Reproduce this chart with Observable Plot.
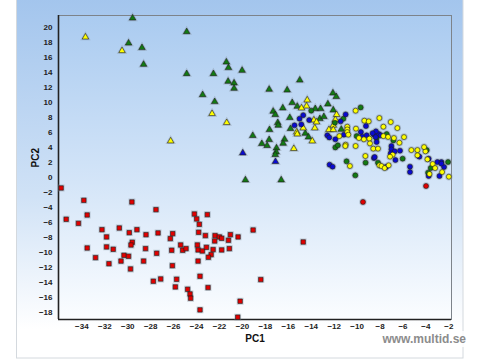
<!DOCTYPE html>
<html><head><meta charset="utf-8">
<script src="https://cdn.jsdelivr.net/npm/d3@7"></script>
<script src="https://cdn.jsdelivr.net/npm/@observablehq/plot@0.6"></script>
<style>
html,body{margin:0;padding:0;background:#fff;}
#chart{width:480px;height:360px;position:relative;}
</style></head><body><div id="chart"></div>
<script>
const xDomain = [-36.04, -1.77];
const yDomain = [-18.88, 21.55];
const xTicks = [-34,-32,-30,-28,-26,-24,-22,-20,-18,-16,-14,-12,-10,-8,-6,-4,-2];
const yTicks = [-18,-16,-14,-12,-10,-8,-6,-4,-2,0,2,4,6,8,10,12,14,16,18,20];
const xLabel = "PC1";
const yLabel = "PC2";
const credit = "www.multid.se";

const greenTriangles = [
[-29.58,21.2],[-24.86,19.38],[-29.93,17.87],[-28.76,17.26],[-28.62,15.04],[-24.86,13.8],[-21.4,15.35],[-21.22,14.6],[-20.03,14.24],[-22.53,13.8],[-21.25,12.78],[-20.73,12.56],[-20.73,11.85],[-23.47,11.0],[-22.42,10.08],[-19.1,5.57],
[-17.67,11.72],[-16.1,11.63],[-15.0,12.95],[-15.66,9.95],[-15.22,9.46],[-16.48,9.24],[-17.32,8.8],[-17.14,8.36],[-15.87,7.96],[-16.92,7.29],[-16.88,6.94],[-15.81,6.5],[-17.64,6.36],[-14.52,5.87],[-14.24,5.38],[-16.33,5.08],[-16.45,4.54],[-17.67,5.03],[-18.31,4.5],[-17.85,4.24],[-17.03,3.92],[-17.06,3.39],[-17.14,3.04],[-19.74,-0.33],[-16.62,-0.33],
[-12.11,11.23],[-11.82,10.75],[-12.55,9.77],[-13.65,9.15],[-13.19,9.15],[-12.08,8.97],[-13.25,7.82],[-12.9,8.09],[-11.38,6.4]
];
const yellowTriangles = [
[-33.69,18.67],[-30.5,16.86],[-22.65,8.49],[-21.37,7.29],[-26.26,4.85],[-14.35,10.3],[-14.41,9.5],[-14.85,9.24],[-14.7,6.58],[-15.26,6.05],[-15.22,5.78],[-15.52,3.84],[-13.77,7.64],[-13.54,7.38],[-11.79,8.36],[-11.9,7.69],[-12.08,6.94],[-12.46,6.36],[-12.08,6.36],[-13.91,4.85],[-13.69,6.58]
];
const blueTriangles = [[-19.97,3.26],[-17.12,2.11]];
const greenCircles = [
[-14.0,8.89],[-9.69,9.33],[-11.2,7.82],[-11.94,7.29],[-10.04,5.51],[-8.3,5.25],[-11.9,4.01],[-11.68,4.28],[-9.26,1.98],[-8.18,1.98],[-10.92,2.15],[-10.16,0.29],[-7.42,5.78],[-6.84,4.94],[-6.03,2.51],[-3.93,3.65],[-2.07,2.06],[-3.58,1.26],[-3.81,0.65]
];
const blueCircles = [
[-14.7,8.3],[-15.02,7.82],[-14.18,7.64],[-15.46,6.94],[-14.87,7.07],[-11.0,8.4],[-11.44,7.47],[-9.67,6.05],[-9.23,6.84],[-12.6,5.61],[-12.43,5.34],[-11.9,5.08],[-11.15,5.7],[-9.55,5.43],[-9.17,5.61],[-8.53,5.7],[-8.1,5.78],[-8.3,4.72],[-8.53,2.59],[-12.4,1.71],[-12.14,1.45],[-8.36,6.14],[-8.65,5.9],[-7.95,5.61],[-8.38,5.38],[-7.01,4.19],[-7.01,3.75],[-6.72,3.48],[-7.07,3.22],[-6.26,3.57],[-6.66,2.33],[-7.48,1.4],[-4.57,2.78],[-3.76,2.51],[-3.0,2.06],[-2.65,2.06],[-2.42,1.4],[-3.76,0.2],[-2.82,0.2],[-5.39,1.45],[-5.39,0.73],[-8.47,2.73],[-2.65,1.85]
];
const yellowCircles = [
[-10.13,8.89],[-10.1,6.5],[-9.37,7.56],[-8.99,7.47],[-8.06,7.91],[-10.86,6.76],[-10.86,6.4],[-10.86,6.05],[-10.77,5.7],[-11.55,5.51],[-9.84,5.25],[-9.41,5.08],[-8.93,5.17],[-8.88,4.54],[-11.0,4.37],[-11.03,4.19],[-10.13,4.19],[-8.59,3.84],[-8.18,3.84],[-9.28,2.86],[-8.06,1.62],[-10.63,1.53],[-7.07,7.38],[-7.71,6.76],[-6.49,6.58],[-7.71,5.51],[-7.3,5.4],[-6.79,5.25],[-5.91,5.38],[-6.31,4.63],[-6.9,3.04],[-7.13,2.78],[-7.88,1.53],[-7.6,1.26],[-7.25,1.62],[-5.27,3.65],[-4.74,3.65],[-4.04,3.48],[-4.74,2.95],[-3.87,2.42],[-3.41,1.8],[-3.2,1.26],[-3.69,0.47],[-2.0,0.11],[-2.59,0.73],[-4.16,4.05]
];
const redCircles = [[-9.49,-3.25],[-3.99,-1.13]];
const redSquares = [
[-35.81,-1.39],[-33.83,-3.03],[-29.64,-3.25],[-27.54,-4.27],[-35.37,-5.55],[-33.54,-4.98],[-34.3,-6.09],[-30.74,-6.71],[-24.19,-4.85],[-23.99,-5.51],[-23.06,-4.93],[-23.76,-6.22],[-32.25,-6.93],[-29.2,-6.93],[-29.87,-7.33],[-31.85,-7.9],[-28.41,-7.6],[-27.36,-7.37],[-26.08,-7.46],[-26.29,-8.12],[-23.82,-7.28],[-23.23,-7.72],[-22.39,-7.72],[-22.01,-7.9],[-21.81,-8.08],[-21.05,-7.6],[-20.38,-7.9],[-19.07,-6.98],[-22.42,-8.44],[-21.22,-8.34],[-29.61,-8.61],[-29.72,-8.97],[-33.54,-9.37],[-31.85,-9.23],[-31.27,-9.54],[-28.45,-9.45],[-26.17,-9.67],[-25.39,-8.97],[-25.21,-9.67],[-24.92,-9.45],[-23.93,-8.97],[-23.87,-9.63],[-23.49,-9.77],[-23.14,-9.28],[-22.56,-9.58],[-22.73,-10.25],[-22.97,-10.6],[-21.81,-9.63],[-21.14,-9.45],[-32.81,-10.65],[-30.33,-10.34],[-29.93,-10.47],[-27.48,-10.07],[-31.64,-11.46],[-30.59,-11.11],[-28.62,-11.11],[-23.87,-11.11],[-26.11,-11.72],[-29.76,-12.16],[-27.77,-13.79],[-27.13,-13.49],[-25.74,-13.53],[-23.7,-13.13],[-18.4,-13.57],[-25.85,-14.55],[-23.0,-14.63],[-24.78,-14.86],[-24.57,-15.48],[-24.52,-16.05],[-20.2,-16.45],[-23.7,-17.6],[-20.41,-18.57],[-14.7,-8.57]
];

const groups = [
  {data: redSquares, symbol: "square", fill: "#e10000", r: 2.5},
  {data: greenTriangles, symbol: "triangle", fill: "#127a12", r: 2.4},
  {data: yellowTriangles, symbol: "triangle", fill: "#ffff00", r: 2.4},
  {data: blueTriangles, symbol: "triangle", fill: "#0a0ad0", r: 2.4},
  {data: greenCircles, symbol: "circle", fill: "#127a12", r: 2.5},
  {data: blueCircles, symbol: "circle", fill: "#0a0ad0", r: 2.5},
  {data: yellowCircles, symbol: "circle", fill: "#ffff00", r: 2.5},
  {data: redCircles, symbol: "circle", fill: "#e10000", r: 2.5}
];

const marks = [];
marks.push(Plot.frame({stroke: "#7d838a", strokeWidth: 1}));
marks.push(Plot.ruleX([xDomain[0]], {stroke: "#222", strokeWidth: 1.6}));
marks.push(Plot.ruleY([yDomain[0]], {stroke: "#222", strokeWidth: 1.6}));
for (const g of groups) {
  marks.push(Plot.dot(g.data, {x: d => d[0], y: d => d[1], symbol: g.symbol, r: g.r + 0.5, fill: "none", stroke: "#7f8c99", strokeOpacity: 0.4, strokeWidth: 1.5}));
}
for (const g of groups) {
  marks.push(Plot.dot(g.data, {x: d => d[0], y: d => d[1], symbol: g.symbol, r: g.r, fill: g.fill, stroke: "#1c1c1c", strokeWidth: 0.6}));
}
marks.push(Plot.text([xLabel], {text: d => d, frameAnchor: "bottom", dy: 22, fontSize: 10, fontWeight: "bold", fill: "#111"}));
marks.push(Plot.text([yLabel], {text: d => d, frameAnchor: "left", dx: -23, rotate: -90, fontSize: 10, fontWeight: "bold", fill: "#111"}));

const hasAxis = typeof Plot.axisX === "function";
if (hasAxis) {
  marks.push(Plot.axisX(xTicks, {tickSize: 0, tickPadding: 4, fontSize: 8, fontWeight: "bold", fill: "#222", label: null}));
  marks.push(Plot.axisY(yTicks, {tickSize: 0, tickPadding: 6, fontSize: 8, fontWeight: "bold", fill: "#222", label: null}));
}

const plot = Plot.plot({
  width: 480, height: 360,
  marginLeft: 58, marginRight: 29, marginTop: 15, marginBottom: 41,
  x: hasAxis ? {domain: xDomain, axis: null} : {domain: xDomain, ticks: xTicks, tickSize: 0, tickPadding: 4, label: null},
  y: hasAxis ? {domain: yDomain, axis: null} : {domain: yDomain, ticks: yTicks, tickSize: 0, tickPadding: 6, label: null},
  symbol: {type: "identity"},
  style: {fontFamily: "'Liberation Sans', Arial, sans-serif", fontSize: "8px", fontWeight: "bold", background: "transparent", color: "#222", overflow: "visible"},
  marks
});

// decorative background panels
const svg = d3.select(plot);
const xs = plot.scale("x"), ys = plot.scale("y");
const px0 = Math.min(...xs.range), px1 = Math.max(...xs.range);
const py0 = Math.min(...ys.range), py1 = Math.max(...ys.range);
const first = plot.firstChild;
const defs = document.createElementNS("http://www.w3.org/2000/svg", "defs");
defs.innerHTML = `
<linearGradient id="outerGrad" x1="0" y1="0" x2="0" y2="1">
  <stop offset="0" stop-color="#a3c5ed"/><stop offset="0.55" stop-color="#d0e2f6"/><stop offset="0.92" stop-color="#ffffff"/>
</linearGradient>
<linearGradient id="plotGrad" x1="0" y1="0" x2="0" y2="1">
  <stop offset="0" stop-color="#aacbf0"/><stop offset="0.55" stop-color="#d4e5f8"/><stop offset="1" stop-color="#fbfdff"/>
</linearGradient>`;
plot.insertBefore(defs, first);
const outer = d3.create("svg:rect").attr("x", 16.5).attr("y", -1).attr("width", 446.5).attr("height", 359)
  .attr("fill", "url(#outerGrad)").attr("stroke", "#d4d9de").attr("stroke-width", 1).node();
plot.insertBefore(outer, first);
const inner = d3.create("svg:rect").attr("x", px0).attr("y", py0).attr("width", px1 - px0).attr("height", py1 - py0)
  .attr("fill", "url(#plotGrad)").node();
plot.insertBefore(inner, first);
svg.append("rect").attr("x", 380).attr("y", 331).attr("width", 100).attr("height", 16).attr("fill", "#ffffff").attr("fill-opacity", 0.85);
svg.append("text").attr("x", 466).attr("y", 343).attr("text-anchor", "end")
  .attr("font-size", 12).attr("font-weight", "bold").attr("fill", "#8c8c8c").text(credit);

document.getElementById("chart").appendChild(plot);
</script></body></html>
